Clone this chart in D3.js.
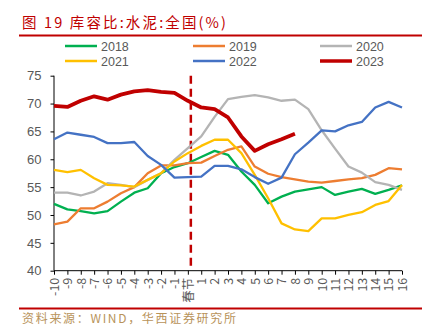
<!DOCTYPE html>
<html><head><meta charset="utf-8">
<script src="https://cdn.jsdelivr.net/npm/d3@7"></script>
<style>body{margin:0;background:#fff}svg{display:block}</style>
</head><body><svg id="c" width="427" height="326"></svg>
<script>
const categories = ["-10","-9","-8","-7","-6","-5","-4","-3","-2","-1","春节","1","2","3","4","5","6","7","8","9","10","11","12","13","14","15","16"];
const s2018 = [52.0,51.0,50.7,50.3,50.7,52.4,54.0,54.8,57.5,58.6,59.3,60.4,61.5,60.8,57.8,55.4,52.1,53.3,54.2,54.6,55.0,53.6,54.2,54.7,53.8,54.5,55.3];
const s2019 = [48.3,48.8,51.2,51.2,52.4,53.9,55.0,57.5,58.9,58.9,59.3,59.4,60.6,61.7,62.3,58.7,57.4,56.8,56.4,56.0,55.8,56.1,56.4,56.6,57.2,58.4,58.2];
const s2020 = [54.0,54.0,53.5,54.2,55.7,55.4,55.0,56.3,57.5,59.9,62.0,64.1,67.6,70.8,71.2,71.5,71.1,70.5,70.7,69.0,65.2,61.9,58.7,57.6,55.9,55.4,54.5];
const s2021 = [58.1,57.7,58.1,56.6,55.4,55.3,55.1,56.3,57.5,59.6,61.1,62.4,63.5,63.5,61.1,57.2,53.0,48.5,47.4,47.1,49.4,49.4,50.0,50.5,51.8,52.5,55.4];
const s2022 = [63.6,64.8,64.4,64.0,62.9,62.9,63.1,60.6,59.0,56.7,56.8,56.9,58.8,58.8,58.2,56.8,55.6,56.7,60.9,63.0,65.2,65.0,66.1,66.7,69.3,70.3,69.3];
const s2023 = [69.6,69.4,70.5,71.3,70.7,71.6,72.2,72.4,72.1,71.9,70.5,69.3,69.0,67.5,64.1,61.5,62.7,63.6,64.6];
const seriesNames = ["2018","2019","2020","2021","2022","2023"];
const yTicks = [40,45,50,55,60,65,70,75];
const springIndex = 10;

const colors = {"2018":"#00b050","2019":"#ed7d31","2020":"#b4b4b4","2021":"#ffc000","2022":"#4472c4","2023":"#c00000"};
const seriesData = {"2018":s2018,"2019":s2019,"2020":s2020,"2021":s2021,"2022":s2022,"2023":s2023};

const svg = d3.select("#c");
const font = "'Noto Sans CJK SC', 'Noto Sans', sans-serif";
const x0 = 54, x1 = 402, yTop = 75.7, yBot = 270.7;
const x = d3.scalePoint().domain(categories).range([x0, x1]);
const y = d3.scaleLinear().domain([40,75]).range([yBot, yTop]);

// title
svg.append("text").attr("x", 22).attr("y", 28).attr("fill", "#c00000")
  .attr("font-family", font).attr("font-size", 14.5)
  .attr("textLength", 204).attr("lengthAdjust", "spacing")
  .text("图 19  库容比:水泥:全国(%)");
svg.append("line").attr("x1",19).attr("x2",422).attr("y1",35.5).attr("y2",35.5).attr("stroke","#c00000").attr("stroke-width",2);
svg.append("line").attr("x1",19).attr("x2",422).attr("y1",308.5).attr("y2",308.5).attr("stroke","#c00000").attr("stroke-width",2);
svg.append("text").attr("x", 22).attr("y", 323).attr("fill", "#b8935a")
  .attr("font-family", font).attr("font-size", 12)
  .attr("textLength", 214).attr("lengthAdjust", "spacing")
  .text("资料来源：WIND，华西证券研究所");

// legend
const legPos = [[65,46],[193,46],[320,46],[65,61],[193,61],[320,61]];
seriesNames.forEach((n,i)=>{
  const [lx,ly] = legPos[i];
  svg.append("line").attr("x1",lx).attr("x2",lx+32).attr("y1",ly).attr("y2",ly)
    .attr("stroke",colors[n]).attr("stroke-width", n==="2023"?3.5:2.5);
  svg.append("text").attr("x",lx+36).attr("y",ly+4.5).attr("fill","#595959")
    .attr("font-family","'Liberation Sans', Arial, sans-serif").attr("font-size",12.5).text(n);
});

// y axis
const ya = svg.append("g").attr("transform",`translate(${x0},0)`)
  .call(d3.axisLeft(y).tickValues(yTicks).tickSize(3.5).tickPadding(9));
ya.select(".domain").attr("stroke","#000").attr("d",`M0,${yTop}V${yBot}`);
ya.selectAll(".tick line").attr("stroke","#000");
ya.selectAll("text").attr("fill","#595959").attr("font-size",13).attr("font-family","'Liberation Sans', Arial, sans-serif");

// x axis
const xa = svg.append("g").attr("transform",`translate(0,${yBot})`)
  .call(d3.axisBottom(x).tickSize(4).tickPadding(4));
xa.select(".domain").attr("stroke","#000").attr("d",`M${x0},0H${x1}`);
xa.selectAll(".tick line").attr("stroke","#000");
xa.selectAll("text").attr("fill","#595959").attr("font-size",12.5)
  .attr("font-family",font)
  .attr("transform","rotate(-90)").attr("text-anchor","end")
  .attr("x",-7).attr("y",0).attr("dy","0.35em");

// spring festival dashed line
const xs = x(categories[springIndex]) + 3;
svg.append("line").attr("x1",xs).attr("x2",xs).attr("y1",yTop).attr("y2",yBot)
  .attr("stroke","#c00000").attr("stroke-width",2.5).attr("stroke-dasharray","8,5");

// lines
const line = d3.line().x((d,i)=>x(categories[i])).y(d=>y(d));
seriesNames.forEach(n=>{
  svg.append("path").datum(seriesData[n]).attr("d",line).attr("fill","none")
    .attr("stroke",colors[n]).attr("stroke-width", n==="2023"?3.8:2.3)
    .attr("stroke-linejoin","round");
});
</script></body></html>
